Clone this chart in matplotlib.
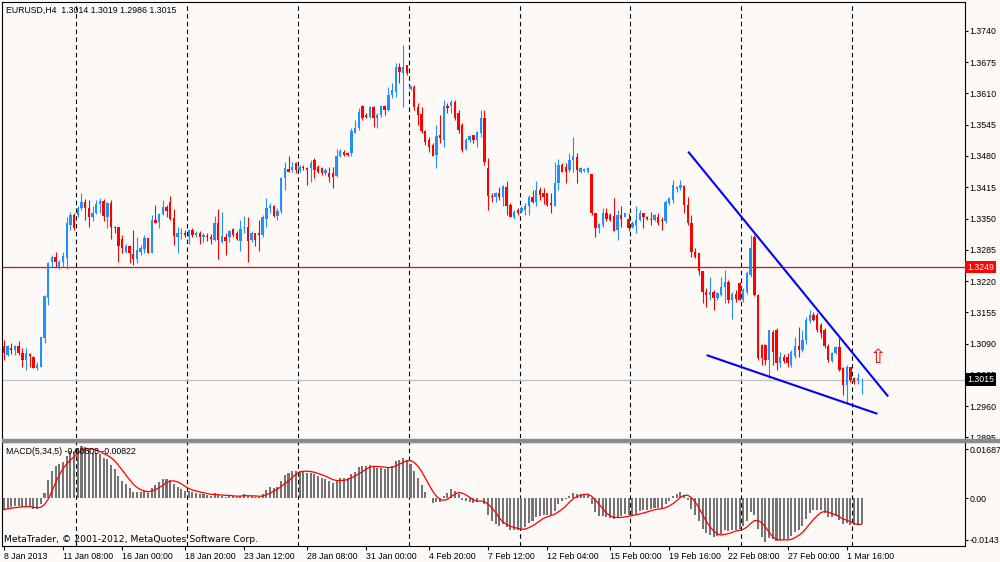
import numpy as np
import pandas as pd
import matplotlib
matplotlib.use('Agg')
import matplotlib.pyplot as plt
from matplotlib.patches import Rectangle
from matplotlib.transforms import blended_transform_factory

# EURUSD H4 bars, 8 Jan 2013 16:00 .. 4 Mar 2013 08:00
opens = [
    1.3084, 1.3066, 1.3080, 1.3077, 1.3084, 1.3070, 1.3056, 1.3068, 1.3063, 1.3039,
    1.3042, 1.3101, 1.3184, 1.3260, 1.3271, 1.3250, 1.3260, 1.3267, 1.3337, 1.3357,
    1.3357, 1.3371, 1.3385, 1.3371, 1.3354, 1.3361, 1.3380, 1.3386, 1.3354, 1.3383,
    1.3333, 1.3332, 1.3307, 1.3281, 1.3293, 1.3276, 1.3265, 1.3281, 1.3286, 1.3309,
    1.3278, 1.3347, 1.3343, 1.3359, 1.3373, 1.3385, 1.3352, 1.3311, 1.3317, 1.3319,
    1.3311, 1.3326, 1.3316, 1.3319, 1.3312, 1.3314, 1.3312, 1.3305, 1.3341, 1.3302,
    1.3311, 1.3311, 1.3328, 1.3319, 1.3304, 1.3330, 1.3333, 1.3305, 1.3319, 1.3319,
    1.3316, 1.3350, 1.3371, 1.3376, 1.3355, 1.3366, 1.3434, 1.3452, 1.3450, 1.3465,
    1.3451, 1.3458, 1.3454, 1.3454, 1.3472, 1.3458, 1.3454, 1.3444, 1.3445, 1.3444,
    1.3438, 1.3479, 1.3489, 1.3487, 1.3486, 1.3527, 1.3538, 1.3583, 1.3565, 1.3562,
    1.3581, 1.3558, 1.3565, 1.3584, 1.3576, 1.3607, 1.3614, 1.3666, 1.3652, 1.3669,
    1.3619, 1.3623, 1.3582, 1.3567, 1.3531, 1.3513, 1.3503, 1.3482, 1.3524, 1.3513,
    1.3583, 1.3583, 1.3593, 1.3569, 1.3544, 1.3494, 1.3513, 1.3524, 1.3513, 1.3527,
    1.3558, 1.3456, 1.3397, 1.3395, 1.3402, 1.3395, 1.3416, 1.3378, 1.3354, 1.3368,
    1.3364, 1.3368, 1.3375, 1.3395, 1.3385, 1.3409, 1.3402, 1.3402, 1.3382, 1.3375,
    1.3423, 1.3461, 1.3458, 1.3451, 1.3472, 1.3477, 1.3447, 1.3449, 1.3447, 1.3442,
    1.3361, 1.3330, 1.3337, 1.3361, 1.3357, 1.3355, 1.3326, 1.3357, 1.3354, 1.3350,
    1.3333, 1.3337, 1.3347, 1.3361, 1.3354, 1.3350, 1.3347, 1.3354, 1.3347, 1.3344,
    1.3382, 1.3389, 1.3411, 1.3413, 1.3418, 1.3378, 1.3340, 1.3281, 1.3278, 1.3240,
    1.3198, 1.3191, 1.3198, 1.3184, 1.3191, 1.3208, 1.3219, 1.3181, 1.3194, 1.3215,
    1.3181, 1.3198, 1.3233, 1.3311, 1.3191, 1.3087, 1.3087, 1.3056, 1.3115, 1.3118,
    1.3049, 1.3063, 1.3063, 1.3045, 1.3064, 1.3085, 1.3077, 1.3097, 1.3136, 1.3149,
    1.3149, 1.3129, 1.3118, 1.3084, 1.3054, 1.3071, 1.3082, 1.3039, 1.3004, 1.3041,
    1.3018, 1.3014, 1.3014]
highs = [
    1.3097, 1.3087, 1.3091, 1.3087, 1.3096, 1.3080, 1.3080, 1.3070, 1.3064, 1.3052,
    1.3104, 1.3191, 1.3260, 1.3274, 1.3281, 1.3264, 1.3281, 1.3354, 1.3364, 1.3361,
    1.3375, 1.3402, 1.3390, 1.3389, 1.3375, 1.3389, 1.3392, 1.3390, 1.3385, 1.3389,
    1.3334, 1.3333, 1.3316, 1.3298, 1.3295, 1.3326, 1.3312, 1.3295, 1.3316, 1.3309,
    1.3357, 1.3378, 1.3362, 1.3389, 1.3378, 1.3397, 1.3369, 1.3333, 1.3330, 1.3326,
    1.3328, 1.3330, 1.3325, 1.3323, 1.3319, 1.3319, 1.3318, 1.3355, 1.3369, 1.3364,
    1.3319, 1.3326, 1.3330, 1.3323, 1.3346, 1.3355, 1.3354, 1.3323, 1.3319, 1.3347,
    1.3357, 1.3392, 1.3382, 1.3378, 1.3371, 1.3437, 1.3468, 1.3479, 1.3468, 1.3468,
    1.3461, 1.3461, 1.3458, 1.3472, 1.3475, 1.3461, 1.3458, 1.3454, 1.3458, 1.3458,
    1.3494, 1.3494, 1.3492, 1.3489, 1.3538, 1.3555, 1.3579, 1.3586, 1.3569, 1.3584,
    1.3583, 1.3569, 1.3586, 1.3586, 1.3623, 1.3631, 1.3673, 1.3673, 1.3711, 1.3669,
    1.3628, 1.3628, 1.3590, 1.3581, 1.3534, 1.3520, 1.3506, 1.3544, 1.3565, 1.3596,
    1.3590, 1.3596, 1.3596, 1.3576, 1.3548, 1.3517, 1.3524, 1.3524, 1.3531, 1.3576,
    1.3576, 1.3475, 1.3402, 1.3406, 1.3415, 1.3420, 1.3427, 1.3382, 1.3368, 1.3371,
    1.3376, 1.3382, 1.3399, 1.3409, 1.3427, 1.3415, 1.3413, 1.3402, 1.3402, 1.3468,
    1.3473, 1.3465, 1.3466, 1.3486, 1.3520, 1.3486, 1.3458, 1.3454, 1.3458, 1.3442,
    1.3361, 1.3340, 1.3371, 1.3371, 1.3361, 1.3392, 1.3368, 1.3376, 1.3362, 1.3361,
    1.3344, 1.3376, 1.3368, 1.3362, 1.3355, 1.3364, 1.3359, 1.3361, 1.3354, 1.3389,
    1.3395, 1.3431, 1.3418, 1.3430, 1.3420, 1.3395, 1.3357, 1.3288, 1.3278, 1.3240,
    1.3205, 1.3229, 1.3201, 1.3198, 1.3229, 1.3243, 1.3222, 1.3198, 1.3201, 1.3219,
    1.3205, 1.3240, 1.3316, 1.3316, 1.3194, 1.3090, 1.3090, 1.3118, 1.3118, 1.3122,
    1.3073, 1.3068, 1.3070, 1.3077, 1.3104, 1.3125, 1.3118, 1.3146, 1.3160, 1.3156,
    1.3153, 1.3132, 1.3122, 1.3090, 1.3073, 1.3084, 1.3101, 1.3042, 1.3045, 1.3041,
    1.3021, 1.3028, 1.3019]
lows = [
    1.3056, 1.3064, 1.3068, 1.3066, 1.3066, 1.3042, 1.3035, 1.3042, 1.3039, 1.3035,
    1.3042, 1.3091, 1.3170, 1.3250, 1.3250, 1.3246, 1.3250, 1.3246, 1.3326, 1.3326,
    1.3354, 1.3368, 1.3347, 1.3333, 1.3344, 1.3359, 1.3361, 1.3344, 1.3330, 1.3307,
    1.3319, 1.3260, 1.3278, 1.3278, 1.3257, 1.3253, 1.3257, 1.3274, 1.3278, 1.3278,
    1.3278, 1.3341, 1.3330, 1.3357, 1.3354, 1.3347, 1.3295, 1.3279, 1.3307, 1.3311,
    1.3298, 1.3312, 1.3312, 1.3298, 1.3302, 1.3304, 1.3298, 1.3304, 1.3265, 1.3300,
    1.3274, 1.3302, 1.3312, 1.3305, 1.3283, 1.3319, 1.3260, 1.3302, 1.3293, 1.3283,
    1.3312, 1.3333, 1.3361, 1.3354, 1.3347, 1.3361, 1.3409, 1.3447, 1.3447, 1.3444,
    1.3447, 1.3450, 1.3420, 1.3425, 1.3434, 1.3444, 1.3441, 1.3441, 1.3425, 1.3413,
    1.3437, 1.3477, 1.3480, 1.3480, 1.3479, 1.3527, 1.3534, 1.3555, 1.3558, 1.3558,
    1.3541, 1.3538, 1.3562, 1.3565, 1.3574, 1.3600, 1.3603, 1.3631, 1.3582, 1.3648,
    1.3617, 1.3576, 1.3544, 1.3527, 1.3503, 1.3489, 1.3479, 1.3454, 1.3506, 1.3498,
    1.3569, 1.3569, 1.3555, 1.3527, 1.3489, 1.3492, 1.3510, 1.3506, 1.3499, 1.3520,
    1.3461, 1.3368, 1.3385, 1.3385, 1.3389, 1.3376, 1.3357, 1.3353, 1.3350, 1.3357,
    1.3361, 1.3357, 1.3357, 1.3383, 1.3375, 1.3389, 1.3380, 1.3375, 1.3361, 1.3375,
    1.3409, 1.3447, 1.3423, 1.3447, 1.3447, 1.3423, 1.3445, 1.3447, 1.3445, 1.3357,
    1.3312, 1.3319, 1.3333, 1.3344, 1.3344, 1.3323, 1.3305, 1.3333, 1.3353, 1.3323,
    1.3330, 1.3319, 1.3344, 1.3330, 1.3346, 1.3337, 1.3344, 1.3337, 1.3326, 1.3341,
    1.3378, 1.3382, 1.3406, 1.3409, 1.3361, 1.3337, 1.3271, 1.3267, 1.3233, 1.3174,
    1.3167, 1.3181, 1.3160, 1.3181, 1.3188, 1.3174, 1.3174, 1.3142, 1.3177, 1.3181,
    1.3177, 1.3194, 1.3229, 1.3188, 1.3056, 1.3045, 1.3045, 1.3018, 1.3045, 1.3035,
    1.3042, 1.3049, 1.3041, 1.3041, 1.3061, 1.3063, 1.3073, 1.3090, 1.3132, 1.3136,
    1.3115, 1.3101, 1.3080, 1.3052, 1.3052, 1.3068, 1.3032, 1.2983, 1.2966, 1.3011,
    1.3007, 1.3007, 1.2986]
closes = [
    1.3070, 1.3084, 1.3077, 1.3084, 1.3070, 1.3056, 1.3070, 1.3064, 1.3039, 1.3046,
    1.3104, 1.3188, 1.3257, 1.3271, 1.3260, 1.3260, 1.3272, 1.3340, 1.3357, 1.3330,
    1.3371, 1.3385, 1.3371, 1.3354, 1.3361, 1.3380, 1.3386, 1.3355, 1.3383, 1.3333,
    1.3330, 1.3292, 1.3288, 1.3292, 1.3278, 1.3265, 1.3285, 1.3288, 1.3309, 1.3278,
    1.3347, 1.3341, 1.3359, 1.3373, 1.3366, 1.3350, 1.3314, 1.3319, 1.3319, 1.3315,
    1.3326, 1.3316, 1.3319, 1.3312, 1.3316, 1.3311, 1.3308, 1.3341, 1.3305, 1.3314,
    1.3304, 1.3325, 1.3316, 1.3307, 1.3328, 1.3333, 1.3304, 1.3319, 1.3305, 1.3316,
    1.3354, 1.3371, 1.3375, 1.3355, 1.3366, 1.3434, 1.3454, 1.3447, 1.3458, 1.3451,
    1.3458, 1.3454, 1.3451, 1.3465, 1.3451, 1.3447, 1.3444, 1.3451, 1.3437, 1.3437,
    1.3479, 1.3491, 1.3482, 1.3482, 1.3531, 1.3538, 1.3572, 1.3558, 1.3560, 1.3581,
    1.3558, 1.3565, 1.3583, 1.3576, 1.3607, 1.3617, 1.3666, 1.3655, 1.3666, 1.3652,
    1.3626, 1.3582, 1.3565, 1.3531, 1.3510, 1.3499, 1.3480, 1.3522, 1.3517, 1.3583,
    1.3579, 1.3593, 1.3558, 1.3534, 1.3492, 1.3513, 1.3522, 1.3513, 1.3529, 1.3558,
    1.3468, 1.3397, 1.3395, 1.3402, 1.3395, 1.3418, 1.3376, 1.3354, 1.3364, 1.3362,
    1.3371, 1.3376, 1.3395, 1.3385, 1.3409, 1.3399, 1.3395, 1.3378, 1.3378, 1.3423,
    1.3461, 1.3447, 1.3447, 1.3472, 1.3479, 1.3451, 1.3454, 1.3452, 1.3454, 1.3361,
    1.3330, 1.3339, 1.3361, 1.3348, 1.3347, 1.3325, 1.3357, 1.3350, 1.3361, 1.3330,
    1.3340, 1.3347, 1.3361, 1.3354, 1.3350, 1.3347, 1.3357, 1.3341, 1.3344, 1.3385,
    1.3392, 1.3420, 1.3415, 1.3420, 1.3378, 1.3340, 1.3281, 1.3271, 1.3240, 1.3198,
    1.3191, 1.3198, 1.3184, 1.3195, 1.3208, 1.3219, 1.3181, 1.3194, 1.3182, 1.3181,
    1.3201, 1.3236, 1.3288, 1.3191, 1.3059, 1.3059, 1.3056, 1.3118, 1.3073, 1.3049,
    1.3063, 1.3054, 1.3049, 1.3073, 1.3085, 1.3077, 1.3097, 1.3139, 1.3149, 1.3139,
    1.3118, 1.3111, 1.3084, 1.3056, 1.3071, 1.3082, 1.3035, 1.3004, 1.3042, 1.3014,
    1.3011, 1.3018, 1.3015]

# bars that carry a time label under the MACD window
label_bars = [0, 16, 32, 49, 65, 82, 98, 115, 131, 147, 164, 180, 196, 212, 228]

# horizontal lines, trend lines and arrow drawn on the chart
red_level = 1.3249
bid_level = 1.3015
upper_line_bars = [185.1, 239.2]
upper_line_prices = [1.3489, 1.2980]
lower_line_bars = [190.1, 236.3]
lower_line_prices = [1.3066, 1.2944]
arrow_bar, arrow_price = 236.3, 1.3062

price_ticks = np.round(np.arange(1.2895, 1.37401, 0.0065), 4)
macd_top, macd_bottom = 0.01687, -0.0143
slow_seed = 1.3105   # EMA(34) level carried in from bars before the window

bg = '#fcf9f6'
W, H = 1000, 562
plt.rcParams['font.family'] = ['Liberation Sans', 'DejaVu Sans']
plt.rcParams['font.size'] = 6.3

times = pd.date_range('2013-01-08 16:00', '2013-03-04 08:00', freq='4h')
times = times[times.dayofweek < 5]
n = len(closes)
x = np.arange(n)
o = np.array(opens)
h = np.array(highs)
l = np.array(lows)
c = np.array(closes)

# MACD(5,34,5): histogram = EMA5 - EMA34, signal = SMA5 of it
ema_f = np.empty(n)
ema_s = np.empty(n)
ema_f[0] = c[0]
ema_s[0] = slow_seed
for k in range(1, n):
    ema_f[k] = ema_f[k-1] + 2/6 * (c[k] - ema_f[k-1])
    ema_s[k] = ema_s[k-1] + 2/35 * (c[k] - ema_s[k-1])
macd = ema_f - ema_s
signal = pd.Series(macd).rolling(5, min_periods=1).mean().values


def box(x0, y0, x1, y1):
    return [x0/W, 1 - y1/H, (x1-x0)/W, (y1-y0)/H]


fig = plt.figure(figsize=(10, 5.62), dpi=100)
fig.patch.set_facecolor(bg)
ax = fig.add_axes(box(2, 2, 964.5, 438))
ax2 = fig.add_axes(box(2, 442, 964.5, 545.7))

for a in (ax, ax2):
    a.set_facecolor(bg)
    a.set_xlim(-0.5, 259.85)
    for s in a.spines.values():
        s.set_linewidth(0.8)
        s.set_color('black')
    for g in np.where((times.dayofweek == 0) & (times.hour == 0))[0]:
        a.axvline(g - 0.5, color='black', lw=0.8, ls=(0, (4, 3)), zorder=1)

# candles
up = c >= o
col = np.where(up, '#1e90ff', '#ff0000')
ax.vlines(x, l, h, colors=col, lw=0.8, zorder=3)
ax.bar(x, np.maximum(np.abs(c - o), 0.00007), bottom=np.minimum(o, c),
       width=0.64, color=col, linewidth=0, zorder=3)

ax.axhline(red_level, color='#ff0000', lw=0.9, zorder=2)
ax.axhline(bid_level, color='#c0c0c0', lw=0.9, zorder=2)
ax.plot(upper_line_bars, upper_line_prices, color='#0000ff', lw=1.5, zorder=4,
        solid_capstyle='butt')
ax.plot(lower_line_bars, lower_line_prices, color='#0000ff', lw=1.5, zorder=4,
        solid_capstyle='butt')
ax.text(arrow_bar, arrow_price, '\u21e7', color='#ff0000', fontsize=14,
        family='DejaVu Sans', ha='center', va='center', zorder=5)

ax.set_ylim(1.28937, 1.38001)
ax.set_yticks(price_ticks)
ax.set_yticklabels([f'{v:.4f}' for v in price_ticks])
ax.yaxis.tick_right()
ax.tick_params(axis='y', direction='out', length=2.5, width=0.8, pad=1.2,
               labelsize=6.3)
ax.tick_params(axis='x', bottom=False, labelbottom=False)
ax.spines['bottom'].set_visible(False)

tr = blended_transform_factory(ax.transAxes, ax.transData)
for lev, fc in ((red_level, '#ff0000'), (bid_level, '#000000')):
    ax.text(1.0025, lev, f'{lev:.4f}', transform=tr, color='white', ha='left',
            va='center', fontsize=6.3, clip_on=False, zorder=6,
            bbox=dict(boxstyle='square,pad=0.2', fc=fc, ec='none'))

# MACD window
ax2.bar(x, macd, width=0.55, color='#747474', linewidth=0, zorder=2)
ax2.plot(x, signal, color='#ff0000', lw=0.9, zorder=3)
ax2.set_ylim(macd_bottom, macd_top)
span = macd_top - macd_bottom
ax2.set_yticks([macd_top - 0.07 * span, 0.0, macd_bottom + 0.055 * span])
ax2.set_yticklabels([f'{macd_top:.5f}', '0.00', f'{macd_bottom:.4f}'])
ax2.yaxis.tick_right()
ax2.tick_params(axis='y', direction='out', length=2.5, width=0.8, pad=1.2,
                labelsize=6.3)

labels = []
for i in label_bars:
    t = times[i]
    labels.append(f'{t.day} {t:%b %Y}' if i == 0 else f'{t.day} {t:%b %H:%M}')
ax2.set_xticks(label_bars)
ax2.set_xticklabels(labels, ha='left')
ax2.tick_params(axis='x', direction='out', length=3, width=0.8, pad=1.5,
                labelsize=6.3)

# window separator
fig.patches.append(Rectangle((2/W, 1 - 442/H), 998/W, 3.5/H,
                             transform=fig.transFigure, color='#8c8c8c'))

fig.text(6/W, 1 - 10/H, 'EURUSD,H4  1.3014 1.3019 1.2986 1.3015',
         ha='left', va='center')
fig.text(6/W, 1 - 451.5/H, 'MACD(5,34,5) -0.00808 -0.00822',
         ha='left', va='center', zorder=10)
fig.text(4/W, 1 - 539.5/H, 'MetaTrader, \u00a9 2001-2012, MetaQuotes Software Corp.',
         ha='left', va='center', zorder=10, family='DejaVu Sans', fontsize=6.7)

fig.savefig('out.png', dpi=100, facecolor=bg)
